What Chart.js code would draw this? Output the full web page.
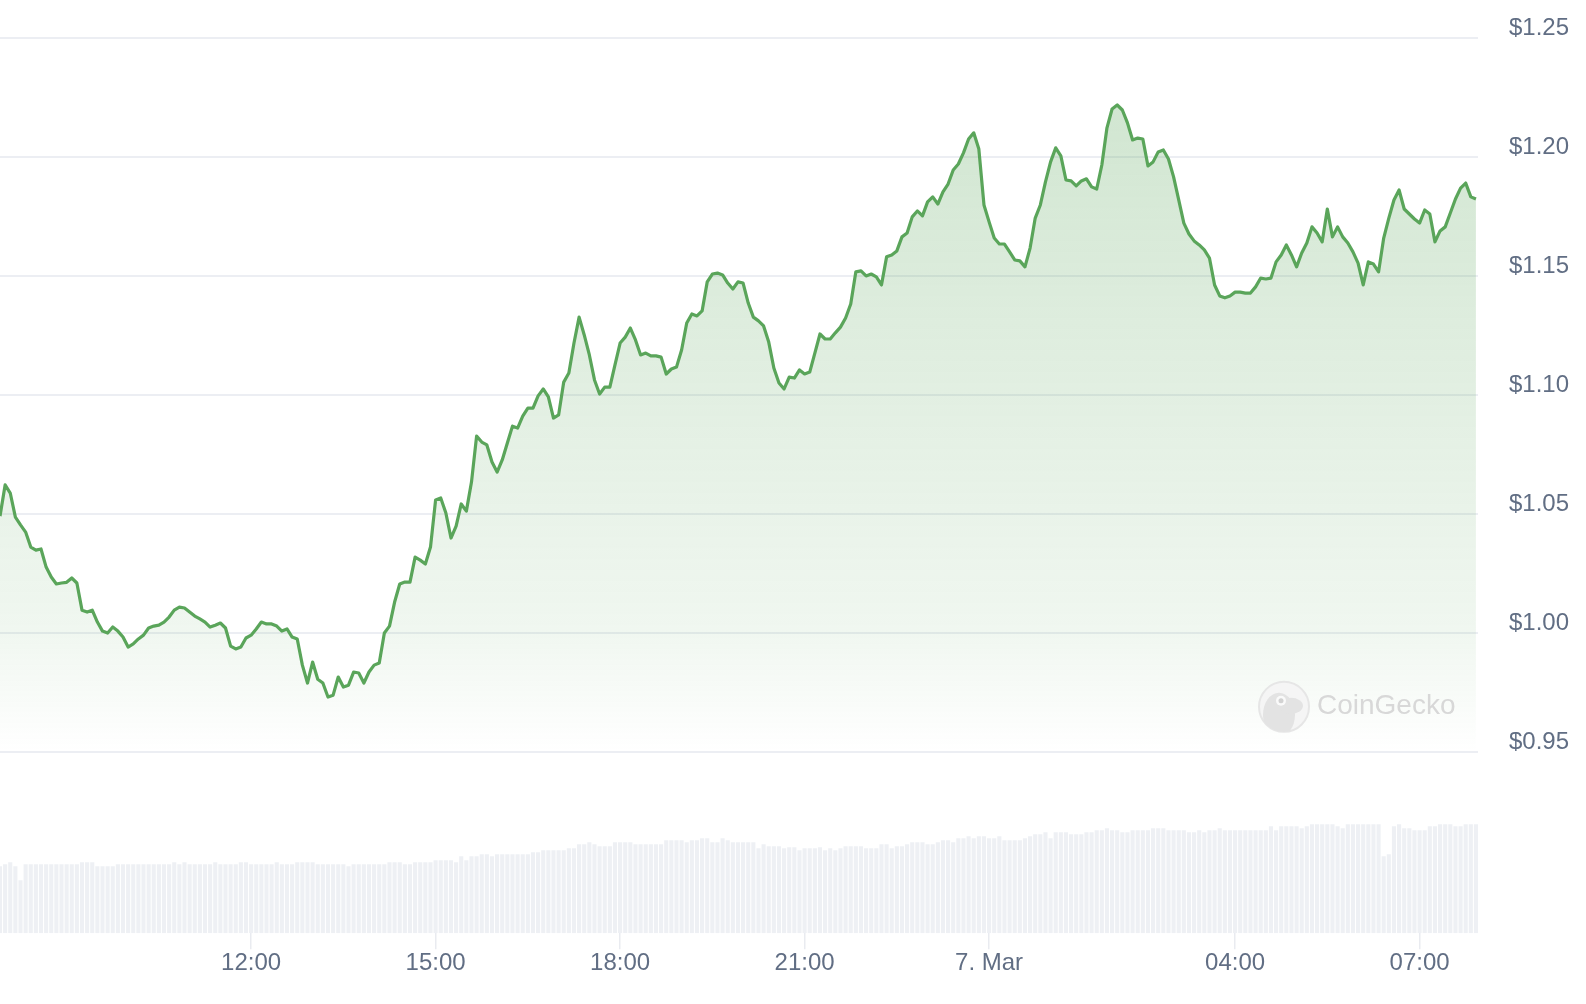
<!DOCTYPE html>
<html>
<head>
<meta charset="utf-8">
<title>Price chart</title>
<script src="https://cdn.jsdelivr.net/npm/chart.js@4.4.1/dist/chart.umd.min.js"></script>
<style>
  html, body { margin: 0; padding: 0; background: #fff; overflow: hidden; }
  #wrap { width: 1586px; height: 1004px; position: relative; }
  #priceChart { display: block; }
</style>
</head>
<body>
<div id="wrap"><canvas id="priceChart"></canvas></div>
<script>
// 5-minute samples from 6 Mar 07:55 to 7 Mar 07:55 (x = minutes since 6 Mar 00:00)
const startMinute = 475;
const stepMinutes = 5;

// Price in USD
const prices = [
  1.0490, 1.0621, 1.0587, 1.0486, 1.0453, 1.0423, 1.0360, 1.0347, 1.0352, 1.0276,
  1.0234, 1.0205, 1.0209, 1.0212, 1.0230, 1.0209, 1.0095, 1.0087, 1.0095, 1.0045,
  1.0007, 0.9999, 1.0024, 1.0007, 0.9982, 0.9940, 0.9953, 0.9974, 0.9990, 1.0020,
  1.0028, 1.0032, 1.0045, 1.0066, 1.0095, 1.0108, 1.0104, 1.0087, 1.0070, 1.0058,
  1.0045, 1.0024, 1.0032, 1.0041, 1.0020, 0.9944, 0.9932, 0.9940, 0.9978, 0.9990,
  1.0016, 1.0045, 1.0037, 1.0037, 1.0028, 1.0007, 1.0016, 0.9982, 0.9974,
  0.9864, 0.9789, 0.9877, 0.9805, 0.9789, 0.9730, 0.9738, 0.9814, 0.9772, 0.9780,
  0.9835, 0.9831, 0.9789, 0.9835, 0.9864, 0.9873, 0.9999, 1.0028, 1.0129, 1.0205,
  1.0213, 1.0213, 1.0318, 1.0305, 1.0289, 1.0360, 1.0558, 1.0566, 1.0503, 1.0398,
  1.0448, 1.0541, 1.0511, 1.0633, 1.0826, 1.0801, 1.0789, 1.0717, 1.0675, 1.0726,
  1.0797, 1.0868, 1.0860, 1.0910, 1.0944, 1.0944, 1.0995, 1.1024, 1.0991, 1.0902,
  1.0915, 1.1053, 1.1091, 1.1217, 1.1326, 1.1251, 1.1167, 1.1062,
  1.1003, 1.1032, 1.1032, 1.1125, 1.1217, 1.1242, 1.1280, 1.1230, 1.1167,
  1.1175, 1.1163, 1.1163, 1.1158, 1.1087, 1.1108, 1.1116, 1.1188, 1.1301, 1.1339,
  1.1331, 1.1352, 1.1474, 1.1507, 1.1511, 1.1503, 1.1469, 1.1444, 1.1474, 1.1469,
  1.1385, 1.1326, 1.1310, 1.1289, 1.1221, 1.1112, 1.1049, 1.1024, 1.1074, 1.1070,
  1.1104, 1.1087, 1.1095, 1.1175, 1.1255, 1.1234, 1.1234, 1.1260, 1.1284, 1.1322,
  1.1381, 1.1516, 1.1520, 1.1499, 1.1507, 1.1495, 1.1461, 1.1579,
  1.1587, 1.1604, 1.1663, 1.1679, 1.1747, 1.1772, 1.1751, 1.1810, 1.1831, 1.1801,
  1.1852, 1.1885, 1.1944, 1.1969, 1.2016, 1.2074, 1.2100, 1.2032, 1.1797, 1.1726,
  1.1658, 1.1633, 1.1633, 1.1600, 1.1566, 1.1562, 1.1537, 1.1616, 1.1742, 1.1797,
  1.1894, 1.1978, 1.2037, 1.2003, 1.1902, 1.1898, 1.1877, 1.1898, 1.1907, 1.1873,
  1.1864, 1.1965, 1.2121, 1.2200, 1.2217, 1.2196, 1.2142, 1.2070, 1.2078, 1.2074,
  1.1961, 1.1978, 1.2020, 1.2028, 1.1990, 1.1915, 1.1818, 1.1721,
  1.1675, 1.1646, 1.1629, 1.1608, 1.1574, 1.1461, 1.1415, 1.1407, 1.1415, 1.1431,
  1.1431, 1.1427, 1.1427, 1.1453, 1.1490, 1.1486, 1.1490, 1.1558, 1.1587, 1.1629,
  1.1587, 1.1537, 1.1595, 1.1637, 1.1705, 1.1679, 1.1642, 1.1780, 1.1663, 1.1705,
  1.1663, 1.1637, 1.1600, 1.1553, 1.1461, 1.1558, 1.1549, 1.1516, 1.1658, 1.1742,
  1.1818, 1.1860, 1.1780, 1.1759, 1.1738, 1.1721, 1.1776, 1.1759, 1.1642, 1.1688,
  1.1705, 1.1763, 1.1822, 1.1868, 1.1889, 1.1831, 1.1822
];

// 24h traded volume, $M
const volumes = [
  335, 345, 355, 335, 265, 345, 345, 345, 345, 345,
  345, 345, 345, 345, 345, 345, 355, 355, 355, 335,
  335, 335, 335, 345, 345, 345, 345, 345, 345, 345,
  345, 345, 345, 345, 355, 345, 355, 345, 345, 345,
  345, 345, 355, 345, 345, 345, 345, 355, 355, 345,
  345, 345, 345, 345, 355, 345, 345, 345, 355, 355,
  355, 355, 345, 345, 345, 345, 345, 345, 335, 345,
  345, 345, 345, 345, 345, 345, 355, 355, 355, 345,
  345, 355, 355, 355, 355, 365, 365, 365, 365, 355,
  385, 365, 385, 385, 395, 395, 385, 395, 395, 395,
  395, 395, 395, 395, 405, 405, 415, 415, 415, 415,
  415, 425, 425, 445, 445, 455, 445, 435, 435, 435,
  455, 455, 455, 455, 445, 445, 445, 445, 445, 445,
  465, 465, 465, 465, 455, 465, 465, 475, 475, 455,
  455, 475, 465, 455, 455, 455, 455, 455, 425, 445,
  435, 435, 435, 425, 430, 430, 415, 425, 425, 425,
  430, 415, 425, 415, 425, 435, 435, 435, 435, 425,
  425, 425, 445, 445, 425, 435, 435, 445, 455, 455,
  455, 445, 445, 455, 465, 465, 455, 475, 475, 485,
  475, 485, 485, 475, 475, 485, 465, 465, 465, 465,
  475, 485, 495, 495, 505, 475, 505, 505, 505, 495,
  495, 495, 505, 505, 515, 515, 525, 515, 515, 505,
  505, 515, 515, 515, 515, 525, 525, 525, 515, 515,
  515, 515, 505, 505, 515, 505, 515, 515, 525, 515,
  515, 515, 515, 515, 515, 515, 515, 515, 535, 515,
  535, 535, 535, 535, 525, 535, 545, 545, 545, 545,
  545, 535, 525, 545, 545, 545, 545, 545, 545, 545,
  385, 395, 535, 545, 525, 525, 515, 515, 515, 535,
  535, 545, 545, 545, 535, 535, 545, 545, 545
];

const priceTicks = [0.95, 1.00, 1.05, 1.10, 1.15, 1.20, 1.25];
const timeTicks = [720, 900, 1080, 1260, 1440, 1680, 1860];
const timeTickLabels = ['12:00', '15:00', '18:00', '21:00', '7. Mar', '04:00', '07:00'];

const times = prices.map((p, i) => startMinute + i * stepMinutes);
const pricePoints = prices.map((p, i) => ({ x: times[i], y: p }));
const volumePoints = volumes.map((v, i) => ({ x: times[i], y: v }));

const labelColor = '#616e84';
const fontFamily = '"Liberation Sans", Arial, sans-serif';

// Faint CoinGecko mark in the lower right of the price pane
const watermark = {
  id: 'watermark',
  afterDatasetsDraw(chart) {
    const ctx = chart.ctx;
    const area = chart.chartArea;
    const cx = area.right - 194;
    const cy = chart.scales.y.getPixelForValue(0.95) - 45;
    ctx.save();
    ctx.beginPath();
    ctx.arc(cx, cy, 25, 0, Math.PI * 2);
    ctx.fillStyle = '#f5f5f5';
    ctx.fill();
    ctx.lineWidth = 2;
    ctx.strokeStyle = '#e6e6e6';
    ctx.stroke();
    ctx.clip();
    ctx.fillStyle = '#e3e3e3';
    ctx.beginPath();
    ctx.ellipse(cx - 5, cy + 8, 16, 22, 0, 0, Math.PI * 2);
    ctx.fill();
    ctx.beginPath();
    ctx.ellipse(cx + 7, cy - 1, 12, 8, 0, 0, Math.PI * 2);
    ctx.fill();
    ctx.fillStyle = '#fafafa';
    ctx.beginPath();
    ctx.arc(cx - 3, cy - 6, 5, 0, Math.PI * 2);
    ctx.fill();
    ctx.fillStyle = '#d2d2d2';
    ctx.beginPath();
    ctx.arc(cx - 3, cy - 6, 2.5, 0, Math.PI * 2);
    ctx.fill();
    ctx.restore();

    ctx.save();
    ctx.font = '28px ' + fontFamily;
    ctx.fillStyle = '#d8d8d8';
    ctx.textBaseline = 'middle';
    ctx.fillText('CoinGecko', cx + 33, cy - 1);
    ctx.restore();
  }
};

new Chart(document.getElementById('priceChart'), {
  type: 'line',
  data: {
    datasets: [
      {
        type: 'bar',
        label: 'Volume',
        data: volumePoints,
        yAxisID: 'yv',
        backgroundColor: '#eef0f4',
        borderWidth: 0,
        barPercentage: 1,
        categoryPercentage: 0.8
      },
      {
        type: 'line',
        label: 'Price',
        data: pricePoints,
        yAxisID: 'y',
        borderColor: '#5aa55a',
        borderWidth: 3.2,
        borderJoinStyle: 'round',
        pointRadius: 0,
        tension: 0,
        fill: { value: 0.95 },
        backgroundColor: (ctx) => {
          const chart = ctx.chart;
          if (!chart.chartArea) return 'rgba(90,165,90,0.15)';
          const yScale = chart.scales.y;
          const top = yScale.getPixelForValue(1.25);
          const bottom = yScale.getPixelForValue(0.95);
          const g = chart.ctx.createLinearGradient(0, top, 0, bottom);
          g.addColorStop(0, 'rgba(90,165,90,0.30)');
          g.addColorStop(0.83, 'rgba(90,165,90,0.09)');
          g.addColorStop(1, 'rgba(90,165,90,0)');
          return g;
        }
      }
    ]
  },
  options: {
    responsive: true,
    maintainAspectRatio: false,
    animation: false,
    layout: { padding: { top: 0, right: 0, bottom: 26, left: 0 } },
    plugins: {
      legend: { display: false },
      tooltip: { enabled: false }
    },
    scales: {
      x: {
        type: 'linear',
        min: 475,
        max: 1917,
        offset: false,
        border: { display: false },
        grid: {
          offset: false,
          drawOnChartArea: false,
          drawTicks: true,
          tickLength: 16,
          color: '#e9ebf0',
          lineWidth: 1.5
        },
        afterBuildTicks: (axis) => {
          axis.ticks = timeTicks.map(v => ({ value: v }));
        },
        afterFit: (axis) => {
          axis.paddingLeft = 0;
          axis.paddingRight = 0;
        },
        ticks: {
          autoSkip: false,
          maxRotation: 0,
          padding: 0,
          color: labelColor,
          font: { family: fontFamily, size: 24 },
          callback: (value, index) => timeTickLabels[index]
        }
      },
      y: {
        position: 'right',
        min: 0.8738,
        max: 1.2658,
        border: { display: false },
        grid: {
          drawTicks: false,
          color: '#eceef3',
          lineWidth: 2
        },
        afterBuildTicks: (axis) => {
          axis.ticks = priceTicks.map(v => ({ value: v }));
        },
        afterFit: (axis) => {
          axis.paddingTop = 0;
          axis.paddingBottom = 0;
          axis.width = 108;
        },
        ticks: {
          padding: 31,
          labelOffset: -9,
          color: labelColor,
          font: { family: fontFamily, size: 24 },
          callback: (value) => '$' + value.toFixed(2)
        }
      },
      yv: {
        display: false,
        min: 0,
        max: 4665
      }
    }
  },
  plugins: [watermark]
});
</script>
</body>
</html>
